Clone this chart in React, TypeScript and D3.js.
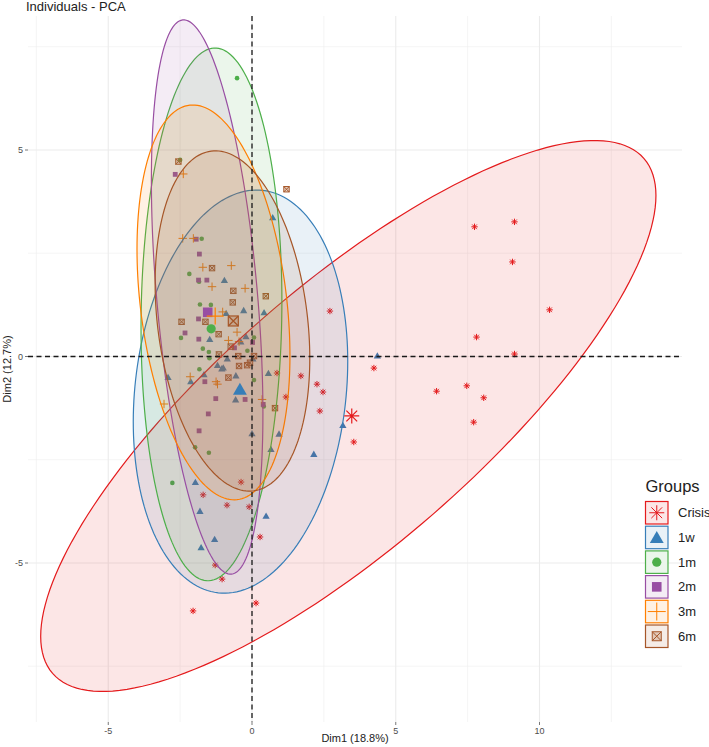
import React from "react";
import * as d3 from "d3";

const groups = ["Crisis", "1w", "1m", "2m", "3m", "6m"];
const colors = ["#E41A1C", "#377EB8", "#4DAF4A", "#984EA3", "#FF7F00", "#A65628"];
const shapes = ["asterisk", "triangle", "circle", "square", "plus", "sqx"];

const crisisX = [7.74, 9.13, 9.06, 10.35, 7.81, 9.13, 4.24, 6.42, 7.47, 8.06, 7.71, 2.71, 0.87, 1.7, 2.26, 2.47, 1.18, 2.36, 3.54, -0.38, -1.7, -0.87, -0.1, 0.28, -1.28, -1.04, 0.14, -2.05];
const crisisY = [3.14, 3.26, 2.29, 1.13, 0.47, 0.06, -0.28, -0.84, -0.71, -1.0, -1.59, 1.1, -0.4, -0.47, -0.67, -0.86, -0.98, -1.32, -2.07, -3.04, -3.35, -3.6, -3.64, -4.37, -5.05, -5.39, -5.97, -6.16];

const w1X = [0.72, -0.96, -0.9, -0.29, 0.42, -1.47, -0.21, -0.39, -0.86, 0.03, -1.2, -1.05, -1.0, -1.67, -2.92, -2.13, -0.56, 0.57, -0.57, 0.0, 0.94, 0.66, 2.15, -1.97, -1.81, 0.49, -1.3, -1.77, 4.36, 3.16];
const w1Y = [3.35, 1.83, 1.03, 1.1, 1.05, 0.4, 0.47, 0.34, -0.07, -0.07, -0.23, -0.31, -0.29, -0.45, -0.52, -0.62, -0.48, -0.42, -1.06, -1.88, -1.89, -2.26, -2.38, -3.06, -3.76, -3.88, -4.44, -4.64, 0.0, -1.68];

const m1X = [-2.5, -1.75, -2.18, -1.84, -1.81, -1.43, -2.47, 0.07, -1.71, -1.5, -0.16, -1.48, -1.83, 0.07, 0.41, -1.98, -1.5, -2.77, -0.52];
const m1Y = [4.76, 2.85, 2.0, 1.81, 1.26, 1.25, 0.45, 0.46, 0.19, 0.11, 0.14, -0.04, -0.31, -0.57, -1.21, -2.2, -2.33, -3.06, 6.74];

const m2X = [-2.67, -1.94, -1.83, -1.86, -1.57, -1.86, -2.33, -1.85, -0.61, 0.02, -1.64, -1.26, -0.24, 0.39, -1.52, -1.84];
const m2Y = [4.41, 2.84, 2.48, 1.85, 1.85, 0.91, 0.57, 0.42, 0.21, 0.34, -0.61, -1.02, -1.04, -1.16, -1.39, -1.8];

const m3X = [-2.39, -2.41, -2.04, -1.71, -0.72, -1.39, -0.24, -1.02, -0.52, -0.82, -0.45, -2.15, -1.25, -1.2, 0.35, -3.06];
const m3Y = [4.42, 2.86, 2.86, 2.16, 2.2, 1.69, 1.65, 1.08, 0.59, 0.39, 0.36, -0.49, -0.61, -0.67, -1.04, -1.15];

const m6X = [-2.56, 1.2, -1.39, -0.65, 0.48, -0.67, -2.45, -1.62, -1.16, -0.74, -1.15, -0.48, 0.07, -0.07, -0.17, -0.45, -0.82, 0.8];
const m6Y = [4.72, 4.05, 2.14, 1.59, 1.46, 1.31, 0.84, 0.84, 0.54, 0.24, 0.05, 0.01, 0.01, -0.15, -0.21, -0.23, -0.51, -1.25];

const groupX = [crisisX, w1X, m1X, m2X, m3X, m6X];
const groupY = [crisisY, w1Y, m1Y, m2Y, m3Y, m6Y];

const meanX = [3.47, -0.42, -1.42, -1.54, -1.28, -0.65];
const meanY = [-1.44, -0.83, 0.67, 1.07, 0.98, 0.86];

// ellipse: centre, half-extent along x / y, correlation
const ellCx = [3.35, -0.4, -1.41, -1.56, -1.34, -0.68];
const ellCy = [-1.44, -0.85, 1.02, 1.44, 1.31, 0.86];
const ellHx = [10.7, 3.73, 2.45, 1.94, 2.66, 2.69];
const ellHy = [6.67, 4.88, 6.45, 6.71, 4.78, 4.12];
const ellR = [0.8, 0.15, 0.05, -0.42, -0.27, -0.22];

const xTicks = [-5, 0, 5, 10];
const yTicks = [-5, 0, 5];
const xMinor = [-7.5, -2.5, 2.5, 7.5, 12.5];
const yMinor = [-7.5, -2.5, 2.5, 7.5];

const W = 709;
const H = 747;
const P = { left: 28, right: 682, top: 16, bottom: 722 };
const FONT = "'Liberation Sans', Arial, Helvetica, sans-serif";

const x = d3.scaleLinear().domain([(P.left - 252) / 28.75, (P.right - 252) / 28.75]).range([P.left, P.right]);
const y = d3.scaleLinear().domain([(356.5 - P.bottom) / 41.3, (356.5 - P.top) / 41.3]).range([P.bottom, P.top]);

function Marker({ type, cx, cy, s, color, sw = 1 }: any) {
  const t = `translate(${cx},${cy})`;
  if (type === "asterisk") {
    const d = s * 0.72;
    return (
      <path transform={t} d={`M${-s},0H${s}M0,${-s}V${s}M${-d},${-d}L${d},${d}M${-d},${d}L${d},${-d}`} stroke={color} strokeWidth={sw} fill="none" />
    );
  }
  if (type === "triangle") {
    return <path transform={t} d={`M0,${-s}L${0.866 * s},${0.5 * s}L${-0.866 * s},${0.5 * s}Z`} fill={color} />;
  }
  if (type === "circle") return <circle cx={cx} cy={cy} r={s} fill={color} />;
  if (type === "square") return <rect x={cx - s} y={cy - s} width={2 * s} height={2 * s} fill={color} />;
  if (type === "plus") {
    return <path transform={t} d={`M${-s},0H${s}M0,${-s}V${s}`} stroke={color} strokeWidth={sw} fill="none" />;
  }
  // square with cross
  return (
    <g transform={t}>
      <rect x={-s} y={-s} width={2 * s} height={2 * s} fill={color} fillOpacity={0.25} stroke={color} strokeWidth={sw} />
      <path d={`M${-s},${-s}L${s},${s}M${-s},${s}L${s},${-s}`} stroke={color} strokeWidth={sw} />
    </g>
  );
}

const smallSize: any = { asterisk: 3.2, triangle: 4.2, circle: 2.3, square: 2.4, plus: 4.2, sqx: 2.7 };
const meanSize: any = { asterisk: 7.5, triangle: 8, circle: 4.6, square: 4.8, plus: 8.5, sqx: 5 };
const legendSize: any = { asterisk: 7.5, triangle: 8, circle: 4.6, square: 4.8, plus: 9, sqx: 4.5 };

function ellipsePath(i: number) {
  const n = 180;
  const pts: [number, number][] = [];
  const r = ellR[i];
  const q = Math.sqrt(1 - r * r);
  for (let k = 0; k < n; k++) {
    const a = (k / n) * Math.PI * 2;
    const ex = ellCx[i] + ellHx[i] * Math.cos(a);
    const ey = ellCy[i] + ellHy[i] * (r * Math.cos(a) + q * Math.sin(a));
    pts.push([x(ex), y(ey)]);
  }
  return d3.line().curve(d3.curveLinearClosed)(pts) as string;
}

export default function App() {
  const legendX = 645.5;
  const legendY0 = 501.5;
  const legendStep = 24.7;
  const box = 22.5;
  return (
    <svg width={W} height={H} style={{ position: "absolute", left: 0, top: 0, display: "block", background: "#fff" }} fontFamily={FONT}>
      {/* grid */}
      <g>
        {xMinor.map((v) => (
          <line key={"xm" + v} x1={x(v)} x2={x(v)} y1={P.top} y2={P.bottom} stroke="#eeeeee" strokeWidth={0.6} />
        ))}
        {yMinor.map((v) => (
          <line key={"ym" + v} y1={y(v)} y2={y(v)} x1={P.left} x2={P.right} stroke="#eeeeee" strokeWidth={0.6} />
        ))}
        {xTicks.map((v) => (
          <line key={"xM" + v} x1={x(v)} x2={x(v)} y1={P.top} y2={P.bottom} stroke="#ebebeb" strokeWidth={1.1} />
        ))}
        {yTicks.map((v) => (
          <line key={"yM" + v} y1={y(v)} y2={y(v)} x1={P.left} x2={P.right} stroke="#ebebeb" strokeWidth={1.1} />
        ))}
      </g>
      {/* individual points */}
      <g>
        {groups.map((g, gi) =>
          groupX[gi].map((vx, k) => (
            <Marker key={g + k} type={shapes[gi]} cx={x(vx)} cy={y(groupY[gi][k])} s={smallSize[shapes[gi]]} color={colors[gi]} sw={1} />
          ))
        )}
      </g>
      {/* ellipses */}
      <g>
        {groups.map((g, gi) => (
          <path key={"e" + g} d={ellipsePath(gi)} fill={colors[gi]} fillOpacity={0.11} stroke={colors[gi]} strokeWidth={1.2} />
        ))}
      </g>
      {/* mean points */}
      <g>
        {groups.map((g, gi) => (
          <Marker key={"m" + g} type={shapes[gi]} cx={x(meanX[gi])} cy={y(meanY[gi])} s={meanSize[shapes[gi]]} color={colors[gi]} sw={1.2} />
        ))}
      </g>
      {/* zero lines */}
      <line x1={P.left} x2={P.right} y1={y(0)} y2={y(0)} stroke="#1a1a1a" strokeWidth={1.3} strokeDasharray="5,3.5" />
      <line x1={x(0)} x2={x(0)} y1={P.top} y2={P.bottom} stroke="#1a1a1a" strokeWidth={1.3} strokeDasharray="5,3.5" />
      {/* axes ticks & labels */}
      {xTicks.map((v) => (
        <g key={"xt" + v}>
          <line x1={x(v)} x2={x(v)} y1={P.bottom} y2={P.bottom + 3} stroke="#555" strokeWidth={0.8} />
          <text x={x(v)} y={P.bottom + 12} textAnchor="middle" fontSize={9} fill="#4d4d4d">
            {v}
          </text>
        </g>
      ))}
      {yTicks.map((v) => (
        <g key={"yt" + v}>
          <line x1={P.left - 3} x2={P.left} y1={y(v)} y2={y(v)} stroke="#555" strokeWidth={0.8} />
          <text x={P.left - 5} y={y(v) + 3.2} textAnchor="end" fontSize={9} fill="#4d4d4d">
            {v}
          </text>
        </g>
      ))}
      <text x={(P.left + P.right) / 2} y={742} textAnchor="middle" fontSize={11} fill="#222">
        Dim1 (18.8%)
      </text>
      <text transform={`translate(11,${(P.top + P.bottom) / 2}) rotate(-90)`} textAnchor="middle" fontSize={11} fill="#222">
        Dim2 (12.7%)
      </text>
      <text x={26} y={11} fontSize={13} fill="#222">
        Individuals - PCA
      </text>
      {/* legend */}
      <g>
        <text x={legendX} y={492} fontSize={16.5} fill="#222">
          Groups
        </text>
        {groups.map((g, gi) => {
          const top = legendY0 + gi * legendStep;
          const cx = legendX + box / 2;
          const cy = top + box / 2;
          return (
            <g key={"l" + g}>
              <rect x={legendX} y={top} width={box} height={box} fill="#fff" />
              <rect x={legendX} y={top} width={box} height={box} fill={colors[gi]} fillOpacity={0.11} stroke={colors[gi]} strokeWidth={1.2} />
              <Marker type={shapes[gi]} cx={cx} cy={cy + (shapes[gi] === "triangle" ? 1.5 : 0)} s={legendSize[shapes[gi]]} color={colors[gi]} sw={1} />
              <text x={678} y={cy + 4.5} fontSize={13} fill="#222">
                {g}
              </text>
            </g>
          );
        })}
      </g>
    </svg>
  );
}
